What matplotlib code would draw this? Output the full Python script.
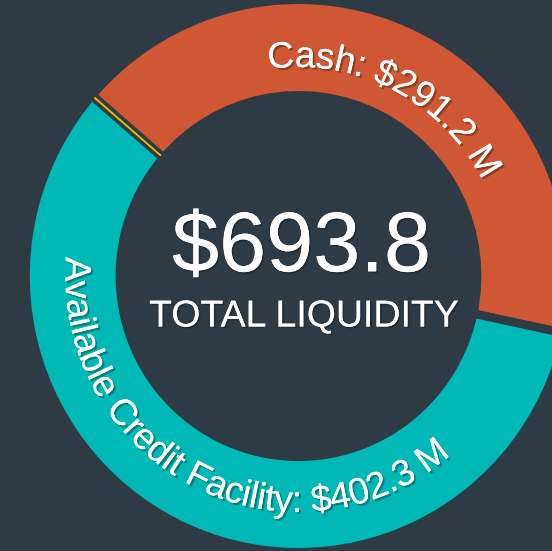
import numpy as np
import matplotlib
matplotlib.use("Agg")
import matplotlib.pyplot as plt
from matplotlib import patheffects as pe
from matplotlib.font_manager import FontProperties, findfont, get_font

# ---- data ----
categories = ["Cash", "Other", "Available Credit Facility"]
values = [291.2, 0.3, 402.3]
slice_labels = ["Cash: $291.2 M", "", "Available Credit Facility: $402.3 M"]
total_text = "$693.8"
subtitle_text = "TOTAL LIQUIDITY"

# ---- style ----
BG = "#2E3A44"
colors = ["#D05733", "#E8B400", "#00B8B5"]
FONT = "Liberation Sans"

W, H = 552, 551
SX = 0.988                     # slight horizontal squish of the reference
cx, cy = 298.5 / SX, H - 276   # donut centre (data units)
R_OUT, R_IN = 272, 185         # visible ring radii
GAP = 8.5                      # px gap between slices

fig = plt.figure(figsize=(W / 100, H / 100), dpi=100, facecolor=BG)
ax = fig.add_axes([0, 0, 1, 1])
ax.set_facecolor(BG)

wedges, _ = ax.pie(
    values, colors=colors, startangle=-12, counterclock=True,
    radius=R_OUT + GAP / 2, center=(cx, cy),
    wedgeprops=dict(width=(R_OUT - R_IN) + GAP, edgecolor=BG,
                    linewidth=GAP * 72 / 100),
)
# tiny slice drawn as a thin bright line on top
yw = wedges[1]
yw.set_edgecolor(colors[1])
yw.set_linewidth(0.9)
yw.set_radius(R_OUT + 0.5)
yw.set_width(R_OUT - R_IN + 1)
yw.set_zorder(5)

ax.set_aspect("auto")
ax.set_xlim(0, W / SX)
ax.set_ylim(0, H)
ax.axis("off")

shadow = [pe.withSimplePatchShadow(offset=(1.5, -1.5), shadow_rgbFace="black",
                                   alpha=0.3), pe.Normal()]


def advances(s, size_pt):
    fp = FontProperties(family=FONT, size=size_pt)
    font = get_font(findfont(fp))
    font.set_size(size_pt, 100)
    return [font.load_char(ord(ch)).linearHoriAdvance / 65536 for ch in s]


def curved_text(s, r_base, theta_mid, size_pt, tops_out):
    adv = advances(s, size_pt)
    total = sum(adv)
    half = np.degrees(total / 2 / r_base)
    cum = 0.0
    for ch, a in zip(s, adv):
        d = np.degrees((cum + a / 2) / r_base)
        if tops_out:
            th = theta_mid + half - d
            rot = th - 90
        else:
            th = theta_mid - half + d
            rot = th + 90
        cum += a
        if ch == " ":
            continue
        t = np.radians(th)
        ax.text(cx + r_base * np.cos(t), cy + r_base * np.sin(t), ch,
                rotation=rot, rotation_mode="anchor", ha="center",
                va="baseline", fontsize=size_pt, color="white", family=FONT,
                path_effects=shadow, zorder=6)


fracs = np.array(values) / sum(values)
starts = -12 + 360 * np.concatenate([[0], np.cumsum(fracs)[:-1]])
mids = starts + 360 * fracs / 2

curved_text(slice_labels[0], 209, mids[0] - 0.8, 26.5, tops_out=True)
curved_text(slice_labels[2], 236, mids[2] - 0.6, 26.6, tops_out=False)

center_shadow = [pe.withSimplePatchShadow(offset=(1.2, -1.2),
                                          shadow_rgbFace="black", alpha=0.25),
                 pe.Normal()]
ax.text(301.5 / SX, H - 271.3, total_text, ha="center", va="baseline",
        fontsize=61, color="white", family=FONT, path_effects=center_shadow,
        zorder=6)
ax.text(304 / SX, H - 326.5, subtitle_text, ha="center", va="baseline",
        fontsize=27, color="white", family=FONT, path_effects=center_shadow,
        zorder=6)

fig.savefig("out.png", dpi=100, facecolor=BG)
